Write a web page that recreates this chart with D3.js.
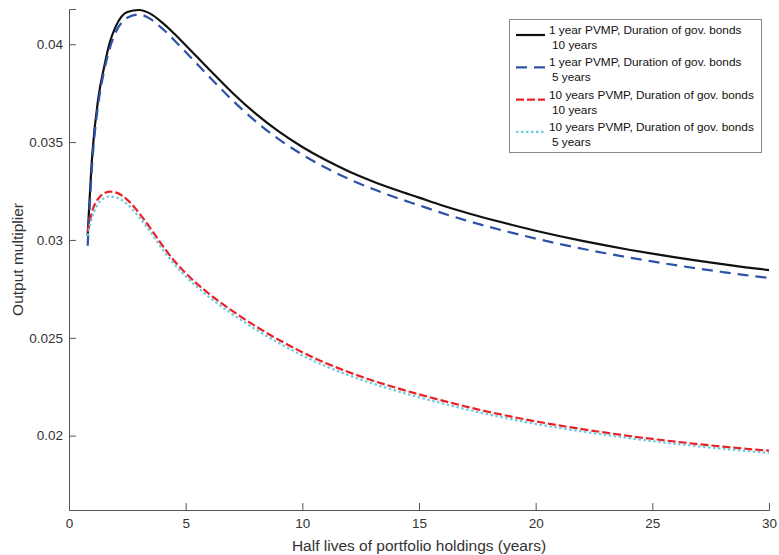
<!DOCTYPE html>
<html>
<head>
<meta charset="utf-8">
<script src="https://cdn.jsdelivr.net/npm/d3@7"></script>
<style>
  body { margin: 0; background: #fff; }
  svg { display: block; font-family: "Liberation Sans", Arial, sans-serif; }
</style>
</head>
<body>
<svg id="chart" width="779" height="555"></svg>
<script>
// ---- data ----
const halfLives = [0.8, 1, 1.25, 1.5, 1.75, 2, 2.5, 3, 3.5, 4, 4.5, 5, 6, 7, 8, 9, 10, 11, 12, 13, 14, 15, 16, 17, 18, 19, 20, 21, 22, 23, 24, 25, 26, 27, 28, 29, 30];

const pvmp1Dur10 = [0.0302, 0.0344, 0.0372, 0.0388, 0.0401, 0.0409, 0.04165, 0.04175, 0.04155, 0.04110, 0.04055, 0.03995, 0.03872, 0.03752, 0.03645, 0.03553, 0.03475, 0.03408, 0.03350, 0.03300, 0.03256, 0.03216, 0.03176, 0.03140, 0.03107, 0.03076, 0.03047, 0.03020, 0.02995, 0.02972, 0.02950, 0.02930, 0.02911, 0.02893, 0.02876, 0.02860, 0.02846];

const pvmp1Dur5 = [0.0297, 0.0340, 0.0369, 0.0386, 0.0398, 0.0406, 0.04135, 0.04152, 0.04128, 0.04080, 0.04022, 0.03960, 0.03835, 0.03714, 0.03606, 0.03514, 0.03436, 0.03369, 0.03311, 0.03261, 0.03217, 0.03177, 0.03137, 0.03100, 0.03067, 0.03036, 0.03007, 0.02980, 0.02955, 0.02932, 0.02910, 0.02890, 0.02871, 0.02853, 0.02836, 0.02820, 0.02806];

const pvmp10Dur10 = [0.0304, 0.0315, 0.0321, 0.03238, 0.03247, 0.03243, 0.03205, 0.03138, 0.03058, 0.02972, 0.02895, 0.02830, 0.02725, 0.02637, 0.02559, 0.02489, 0.02426, 0.02371, 0.02324, 0.02282, 0.02245, 0.02211, 0.02179, 0.02149, 0.02121, 0.02096, 0.02073, 0.02052, 0.02033, 0.02015, 0.01998, 0.01983, 0.01969, 0.01956, 0.01944, 0.01933, 0.01923];

const pvmp10Dur5 = [0.0302, 0.0312, 0.03185, 0.03213, 0.03222, 0.03218, 0.03182, 0.03117, 0.03039, 0.02954, 0.02878, 0.02814, 0.02709, 0.02621, 0.02543, 0.02473, 0.02410, 0.02355, 0.02308, 0.02267, 0.02230, 0.02196, 0.02165, 0.02135, 0.02108, 0.02083, 0.02060, 0.02040, 0.02021, 0.02004, 0.01987, 0.01972, 0.01958, 0.01945, 0.01933, 0.01922, 0.01912];

const xTicks = [0, 5, 10, 15, 20, 25, 30];
const yTicks = [0.02, 0.025, 0.03, 0.035, 0.04];

const seriesNames = [
  ["1 year PVMP, Duration of gov. bonds", "10 years"],
  ["1 year PVMP, Duration of gov. bonds", "5 years"],
  ["10 years PVMP, Duration of gov. bonds", "10 years"],
  ["10 years PVMP, Duration of gov. bonds", "5 years"]
];
const seriesValues = [pvmp1Dur10, pvmp1Dur5, pvmp10Dur10, pvmp10Dur5];
const seriesColors = ["#111111", "#2f52a9", "#ec1f26", "#6ccbe0"];
const seriesDash = [null, "11,7", "8,3", "2.5,2.5"];

const xLabel = "Half lives of portfolio holdings (years)";
const yLabel = "Output multiplier";

// ---- layout ----
const svg = d3.select("#chart");
const mLeft = 69, mRight = 769, mTop = 9, mBottom = 510;

const x = d3.scaleLinear().domain([0, 30]).range([mLeft, mRight]);
const y = d3.scaleLinear().domain([0.0162, 0.0418]).range([mBottom, mTop]);

const axisColor = "#555";
const textColor = "#333";

// x axis
const gx = svg.append("g").attr("transform", `translate(0,${mBottom})`)
  .call(d3.axisBottom(x).tickValues(xTicks).tickSize(-7).tickPadding(8).tickFormat(d3.format("d")));
// y axis
const gy = svg.append("g").attr("transform", `translate(${mLeft},0)`)
  .call(d3.axisLeft(y).tickValues(yTicks).tickSize(-7).tickPadding(6).tickFormat(d => String(+d.toFixed(3))));

[gx, gy].forEach(g => {
  g.select(".domain").attr("stroke", axisColor).attr("stroke-width", 1);
  g.selectAll(".tick line").attr("stroke", axisColor);
  g.selectAll(".tick text").attr("fill", textColor).attr("font-size", 13.5)
    .attr("font-family", "'Liberation Sans', Arial, sans-serif");
});

// axis titles
svg.append("text")
  .attr("x", (mLeft + mRight) / 2).attr("y", 551)
  .attr("text-anchor", "middle").attr("font-size", 15.5).attr("fill", textColor)
  .text(xLabel);
svg.append("text")
  .attr("transform", `translate(23,${(mTop + mBottom) / 2}) rotate(-90)`)
  .attr("text-anchor", "middle").attr("font-size", 15.5).attr("fill", textColor)
  .text(yLabel);

// lines
const line = d3.line().x(d => x(d[0])).y(d => y(d[1])).curve(d3.curveMonotoneX);
seriesValues.forEach((vals, i) => {
  svg.append("path")
    .datum(halfLives.map((h, j) => [h, vals[j]]))
    .attr("fill", "none")
    .attr("stroke", seriesColors[i])
    .attr("stroke-width", 2.2)
    .attr("stroke-dasharray", seriesDash[i])
    .attr("d", line);
});

// legend
const lg = svg.append("g");
lg.append("rect").attr("x", 509.5).attr("y", 19.5).attr("width", 252).attr("height", 133)
  .attr("fill", "#fff").attr("stroke", "#888").attr("stroke-width", 1);
seriesNames.forEach((nm, i) => {
  const cy = 35 + i * 32.3;
  lg.append("line").attr("x1", 516).attr("x2", 545).attr("y1", cy).attr("y2", cy)
    .attr("stroke", seriesColors[i]).attr("stroke-width", 2.2)
    .attr("stroke-dasharray", seriesDash[i]);
  lg.append("text").attr("x", 549).attr("y", cy - 1).attr("font-size", 11.8).attr("fill", "#111")
    .text(nm[0]);
  lg.append("text").attr("x", 552).attr("y", cy + 14).attr("font-size", 11.8).attr("fill", "#111")
    .text(nm[1]);
});
</script>
</body>
</html>
